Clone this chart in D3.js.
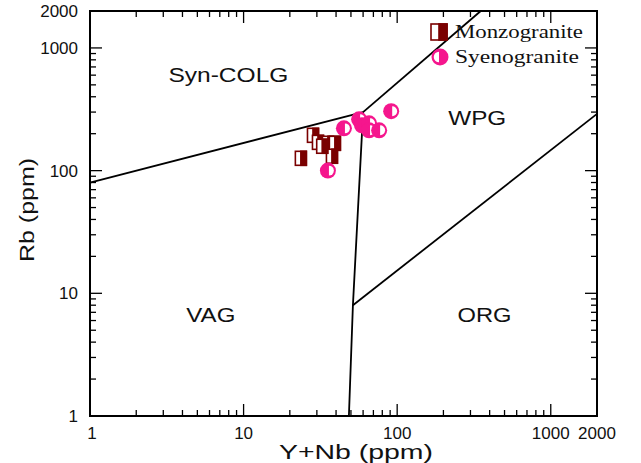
<!DOCTYPE html>
<html>
<head>
<meta charset="utf-8">
<script src="https://cdn.jsdelivr.net/npm/d3@7"></script>
<style>
  html, body { margin: 0; padding: 0; background: #fff; }
  svg { display: block; }
</style>
</head>
<body>
<svg id="chart" width="641" height="463"></svg>
<script>
// ---- data ----
const monzoYNb = [28.3, 30.5, 35.4, 39.3, 37.6, 23.6, 32.5];
const monzoRb  = [194, 170, 167, 167, 131, 126, 158];
const syenoYNb = [45, 56.5, 59.0, 65.6, 65.6, 76.3, 91.4, 35.4];
const syenoRb  = [221, 262, 234, 243, 213, 213, 305, 100];

const xTickLabels = [1, 10, 100, 1000, 2000];
const yTickLabels = [1, 10, 100, 1000, 2000];

// discrimination boundaries (Y+Nb, Rb)
const lineSynVag = [[1, 80], [60, 300]];
const lineSynWpg = [[60, 300], [350, 2000]];
const lineVagWpg = [[60, 300], [51.5, 8], [48.5, 1]];
const lineWpgOrg = [[51.5, 8], [2000, 290]];

const fieldNames = ["Syn-COLG", "WPG", "VAG", "ORG"];
const fieldX = [3.24, 215, 4.24, 247];
const fieldY = [530, 236, 5.8, 5.8];

const seriesNames = ["Monzogranite", "Syenogranite"];

// ---- layout ----
const svg = d3.select("#chart");
const L = 90, R = 597, T = 11, B = 416;
const x = d3.scaleLog().domain([1, 2000]).range([L, R]);
const y = d3.scaleLog().domain([1, 2000]).range([B, T]);

const dred = "#7a0000";
const pink = "#f5168d";

// minor + major ticks
function allTicks(max) {
  const t = [];
  for (let d = 1; d <= 1000; d *= 10) {
    for (let m = 1; m <= 9; m++) {
      const v = d * m;
      if (v <= max) t.push(v);
    }
  }
  return t;
}
const tx = allTicks(2000);
const ty = allTicks(2000);
const isMajor = v => Math.abs(Math.log10(v) - Math.round(Math.log10(v))) < 1e-9;

const g = svg.append("g");
tx.forEach(v => {
  const len = isMajor(v) ? 12 : 6;
  g.append("line").attr("x1", x(v)).attr("x2", x(v)).attr("y1", B).attr("y2", B - len)
    .attr("stroke", "#000").attr("stroke-width", 1.3);
  g.append("line").attr("x1", x(v)).attr("x2", x(v)).attr("y1", T).attr("y2", T + len)
    .attr("stroke", "#000").attr("stroke-width", 1.3);
});
ty.forEach(v => {
  const len = isMajor(v) ? 12 : 6;
  g.append("line").attr("y1", y(v)).attr("y2", y(v)).attr("x1", L).attr("x2", L + len)
    .attr("stroke", "#000").attr("stroke-width", 1.3);
  g.append("line").attr("y1", y(v)).attr("y2", y(v)).attr("x1", R).attr("x2", R - len)
    .attr("stroke", "#000").attr("stroke-width", 1.3);
});
g.append("rect").attr("x", L).attr("y", T).attr("width", R - L).attr("height", B - T)
  .attr("fill", "none").attr("stroke", "#000").attr("stroke-width", 2);

const tickFont = "'Liberation Sans', Arial, sans-serif";
xTickLabels.forEach(v => {
  g.append("text").attr("x", x(v) + (v === 1 ? 2 : 0)).attr("y", 439)
    .attr("text-anchor", "middle").attr("font-family", tickFont).attr("font-size", 17)
    .attr("fill", "#111").text(v);
});
yTickLabels.forEach(v => {
  g.append("text").attr("x", 78).attr("y", y(v) + 6)
    .attr("text-anchor", "end").attr("font-family", tickFont).attr("font-size", 17)
    .attr("fill", "#111").text(v);
});

svg.append("text").attr("x", 279).attr("y", 459)
  .attr("font-family", tickFont).attr("font-size", 21)
  .attr("textLength", 154).attr("lengthAdjust", "spacingAndGlyphs")
  .attr("fill", "#111").text("Y+Nb (ppm)");
svg.append("text").attr("transform", "translate(34,262) rotate(-90)")
  .attr("font-family", tickFont).attr("font-size", 21)
  .attr("textLength", 104).attr("lengthAdjust", "spacingAndGlyphs")
  .attr("fill", "#111").text("Rb (ppm)");

const line = d3.line().x(d => x(d[0])).y(d => y(d[1]));
[lineSynVag, lineSynWpg, lineVagWpg, lineWpgOrg].forEach(l => {
  g.append("path").attr("d", line(l)).attr("fill", "none")
    .attr("stroke", "#000").attr("stroke-width", 1.8);
});

const fieldW = [120, 58, 49, 54];
fieldNames.forEach((n, i) => {
  svg.append("text").attr("x", x(fieldX[i])).attr("y", y(fieldY[i]))
    .attr("font-family", tickFont).attr("font-size", 20)
    .attr("textLength", fieldW[i]).attr("lengthAdjust", "spacingAndGlyphs")
    .attr("fill", "#111").text(n);
});

function square(sel, cx, cy, w, h) {
  sel.append("rect").attr("x", cx - w / 2).attr("y", cy - h / 2).attr("width", w).attr("height", h)
    .attr("fill", "#fff").attr("stroke", dred).attr("stroke-width", 1.6);
  sel.append("rect").attr("x", cx).attr("y", cy - h / 2).attr("width", w / 2).attr("height", h)
    .attr("fill", dred).attr("stroke", dred).attr("stroke-width", 1.6);
}
function circle(sel, cx, cy, r, whiteSide) {
  sel.append("circle").attr("cx", cx).attr("cy", cy).attr("r", r).attr("fill", pink);
  const ri = r * 0.62;
  const s = whiteSide;
  const arc = `M${cx + s * 1},${cy - ri} A${ri},${ri} 0 0 ${s > 0 ? 1 : 0} ${cx + s * 1},${cy + ri} Z`;
  sel.append("path").attr("d", arc).attr("fill", "#fff");
}

const pts = svg.append("g");
monzoYNb.forEach((v, i) => square(pts, x(v), y(monzoRb[i]), 11, 14));
syenoYNb.forEach((v, i) => circle(pts, x(v), y(syenoRb[i]), 8, 1));

const serif = "'Liberation Serif', 'Times New Roman', serif";
const lg = svg.append("g");
square(lg, 439, 32, 16, 16);
circle(lg, 440, 57, 8.5, -1);
lg.append("text").attr("x", 455).attr("y", 38).attr("font-family", serif).attr("font-size", 19)
  .attr("textLength", 128).attr("lengthAdjust", "spacingAndGlyphs").attr("fill", "#111").text(seriesNames[0]);
lg.append("text").attr("x", 455).attr("y", 63).attr("font-family", serif).attr("font-size", 19)
  .attr("textLength", 124).attr("lengthAdjust", "spacingAndGlyphs").attr("fill", "#111").text(seriesNames[1]);
</script>
</body>
</html>
